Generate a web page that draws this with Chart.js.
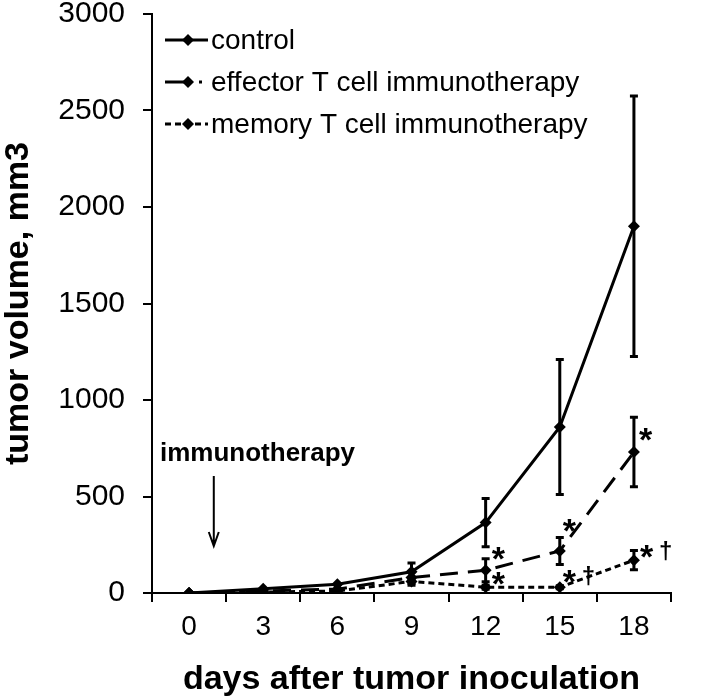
<!DOCTYPE html>
<html>
<head>
<meta charset="utf-8">
<script src="https://cdn.jsdelivr.net/npm/chart.js@4.4.1/dist/chart.umd.min.js"></script>
<style>
  html, body { margin: 0; padding: 0; background: #fff; }
  #wrap { width: 708px; height: 700px; }
</style>
</head>
<body>
<div id="wrap"><canvas id="c" width="708" height="700"></canvas></div>
<script>
// ---- data ----
const days = ['0', '3', '6', '9', '12', '15', '18'];
const seriesNames = ['control', 'effector T cell immunotherapy', 'memory T cell immunotherapy'];
const controlMean = [0, 22, 45, 110, 365, 860, 1900];
const controlErr  = [0, 0, 0, 45, 125, 350, 675];
const effectorMean = [0, 10, 20, 80, 118, 218, 730];
const effectorErr  = [0, 0, 0, 30, 60, 70, 180];
const memoryMean = [0, 5, 10, 60, 30, 30, 170];
const memoryErr  = [0, 0, 0, 20, 10, 8, 50];
const yTicks = [0, 500, 1000, 1500, 2000, 2500, 3000];
const xTitle = 'days after tumor inoculation';
const yTitle = 'tumor volume, mm3';
const arrowText = 'immunotherapy';
const arrowDay = 1;          // day the arrow points at
// significance marks: [datasetIndex, pointIndex, text]
const marks = [
  [1, 4, '*'], [2, 4, '*'],
  [1, 5, '*'], [2, 5, '*'],
  [1, 6, '*'], [2, 6, '*']
];
const daggers = [[2, 5], [2, 6]];

const FONT = "'Liberation Sans', Arial, sans-serif";
const errs = [controlErr, effectorErr, memoryErr];

const errorBars = {
  id: 'errorBars',
  afterDatasetsDraw(chart) {
    const ctx = chart.ctx, y = chart.scales.y;
    ctx.save();
    ctx.strokeStyle = '#000';
    ctx.lineWidth = 3;
    ctx.setLineDash([]);
    chart.data.datasets.forEach((ds, di) => {
      const meta = chart.getDatasetMeta(di);
      meta.data.forEach((pt, i) => {
        const e = errs[di][i];
        if (!e) return;
        const top = y.getPixelForValue(ds.data[i] + e);
        const bot = y.getPixelForValue(Math.max(0, ds.data[i] - e));
        ctx.beginPath();
        ctx.moveTo(pt.x, top); ctx.lineTo(pt.x, bot);
        ctx.moveTo(pt.x - 4, top); ctx.lineTo(pt.x + 4, top);
        ctx.moveTo(pt.x - 4, bot); ctx.lineTo(pt.x + 4, bot);
        ctx.stroke();
      });
    });
    ctx.restore();
  }
};

const extras = {
  id: 'extras',
  afterDraw(chart) {
    const ctx = chart.ctx, x = chart.scales.x, y = chart.scales.y;
    ctx.save();
    // legend
    const lx0 = 165, lx1 = 208, ly = [40, 82, 124];
    const legendDash = [[], [20, 14, 3, 20], [6, 4]];
    chart.data.datasets.forEach((ds, i) => {
      ctx.strokeStyle = '#000';
      ctx.lineWidth = 3;
      ctx.setLineDash(legendDash[i]);
      ctx.beginPath();
      ctx.moveTo(lx0, ly[i]); ctx.lineTo(lx1, ly[i]);
      ctx.stroke();
      ctx.setLineDash([]);
      const cx = 188;
      ctx.fillStyle = '#000';
      ctx.beginPath();
      ctx.moveTo(cx, ly[i] - 6); ctx.lineTo(cx + 6, ly[i]);
      ctx.lineTo(cx, ly[i] + 6); ctx.lineTo(cx - 6, ly[i]);
      ctx.closePath(); ctx.fill();
      ctx.font = '28px ' + FONT;
      ctx.textBaseline = 'middle';
      ctx.textAlign = 'left';
      ctx.fillText(ds.label, 211, ly[i] + 1);
    });
    // immunotherapy annotation + arrow
    const p0 = x.getPixelForValue(0), p1 = x.getPixelForValue(1);
    const ax = p0 + (p1 - p0) * arrowDay / 3;
    ctx.font = 'bold 26px ' + FONT;
    ctx.textAlign = 'left';
    ctx.textBaseline = 'alphabetic';
    ctx.fillText(arrowText, 160, 461);
    ctx.lineWidth = 2;
    ctx.beginPath();
    ctx.moveTo(ax, 476); ctx.lineTo(ax, 546);
    ctx.moveTo(ax - 5, 532); ctx.lineTo(ax, 546); ctx.lineTo(ax + 5, 532);
    ctx.stroke();
    // significance marks
    ctx.font = 'bold 34px ' + FONT;
    ctx.textBaseline = 'middle';
    ctx.textAlign = 'left';
    const offs = {
      '1,4': [6, -10], '2,4': [6, -2],
      '1,5': [3, -18], '2,5': [3, -4],
      '1,6': [5, -10], '2,6': [6, -2]
    };
    marks.forEach(([di, pi, t]) => {
      const pt = chart.getDatasetMeta(di).data[pi];
      const [dx, dy] = offs[di + ',' + pi];
      ctx.fillText(t, pt.x + dx, pt.y + dy);
    });
    ctx.font = 'bold 24px ' + FONT;
    daggers.forEach(([di, pi]) => {
      const pt = chart.getDatasetMeta(di).data[pi];
      const [dx, dy] = offs[di + ',' + pi];
      ctx.fillText('†', pt.x + dx + 19, pt.y + dy - 6);
    });
    ctx.restore();
  }
};

const mk = (label, data, dash) => ({
  label, data,
  borderColor: '#000', backgroundColor: '#000',
  borderWidth: 3, borderDash: dash,
  pointStyle: 'rectRot', pointRadius: 6, pointBorderWidth: 0,
  pointBackgroundColor: '#000', tension: 0, fill: false
});

new Chart(document.getElementById('c'), {
  type: 'line',
  data: {
    labels: days,
    datasets: [
      mk(seriesNames[0], controlMean, []),
      mk(seriesNames[1], effectorMean, [18, 10]),
      mk(seriesNames[2], memoryMean, [6, 4])
    ]
  },
  options: {
    responsive: false,
    animation: false,
    devicePixelRatio: 1,
    layout: { padding: { top: 14, right: 37, left: 0, bottom: 0 } },
    plugins: { legend: { display: false }, tooltip: { enabled: false } },
    scales: {
      x: {
        type: 'category',
        offset: true,
        grid: { offset: true, drawOnChartArea: false, drawTicks: true, tickLength: 9, color: '#000', lineWidth: 2 },
        border: { color: '#000', width: 2 },
        ticks: { color: '#000', font: { family: FONT, size: 28 }, padding: 8, maxRotation: 0 },
        title: { display: true, text: xTitle, color: '#000', font: { family: FONT, size: 34, weight: 'bold', lineHeight: 1 }, padding: { top: 0, bottom: 3 } },
        afterFit(s) { s.height = 107; s.paddingLeft = 0; s.paddingRight = 0; }
      },
      y: {
        min: 0, max: 3000,
        afterBuildTicks(s) { s.ticks = yTicks.map(v => ({ value: v })); },
        grid: { drawOnChartArea: false, drawTicks: true, tickLength: 9, color: '#000', lineWidth: 2 },
        border: { color: '#000', width: 2 },
        ticks: { color: '#000', font: { family: FONT, size: 30 }, padding: 18, callback: v => String(v) },
        title: { display: true, text: yTitle, color: '#000', font: { family: FONT, size: 34, weight: 'bold', lineHeight: 1 }, padding: { top: 2, bottom: 0 } },
        afterFit(s) { s.width = 152; s.paddingTop = 0; s.paddingBottom = 0; }
      }
    }
  },
  plugins: [errorBars, extras]
});
</script>
</body>
</html>
